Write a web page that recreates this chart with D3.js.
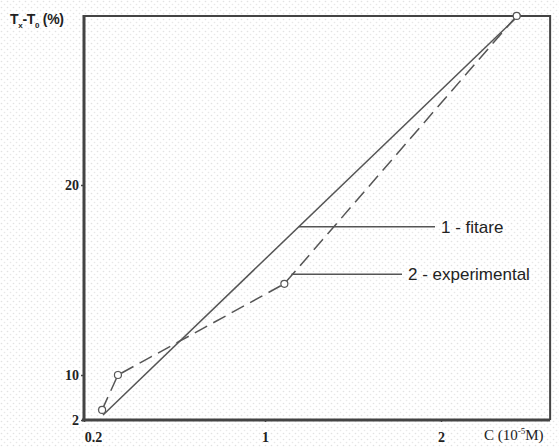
<!DOCTYPE html>
<html>
<head>
<meta charset="utf-8">
<script src="https://cdn.jsdelivr.net/npm/d3@7"></script>
<style>
  body { margin: 0; background: #fff; }
  svg { display: block; }
</style>
</head>
<body>
<svg width="559" height="447"></svg>
<script>
// data (C in 10^-5 M, Tx-T0 in %)
var expC = [0.28, 0.35, 1.11, 2.43];
var expT = [3.8, 10, 14.8, 28.9];
var fitC = [0.284, 2.45];
var fitT = [2.9, 29.0];
var xTicks = [0.2, 1, 2];
var yTicks = [2, 10, 20];

// axes of the original are not uniform, so the scales are piecewise
var x = d3.scaleLinear().domain([0.2, 1, 2]).range([84, 265, 441]);
var y = d3.scaleLinear().domain([2, 10, 20]).range([420, 375, 185]);
var xMax = 2.62, yMax = 28.9;

var svg = d3.select("svg");

// faint dotted paper texture
var pat = svg.append("defs").append("pattern")
    .attr("id", "dots")
    .attr("width", 6).attr("height", 6)
    .attr("patternUnits", "userSpaceOnUse");
pat.append("rect").attr("width", 6).attr("height", 6).attr("fill", "#fff");
pat.append("circle").attr("cx", 1.5).attr("cy", 1.5).attr("r", 0.8).attr("fill", "#e2e2e2");
pat.append("circle").attr("cx", 4.5).attr("cy", 4.5).attr("r", 0.8).attr("fill", "#e8e8e8");
svg.append("rect").attr("width", 559).attr("height", 447).attr("fill", "url(#dots)");

// top and right frame
svg.append("path")
    .attr("d", "M" + x(0.2) + "," + y(yMax) + "H" + x(xMax) + "V" + y(2))
    .attr("fill", "none")
    .attr("stroke", "#444")
    .attr("stroke-width", 2);

// fitted line
var line = d3.line()
    .x(function(d) { return x(d[0]); })
    .y(function(d) { return y(d[1]); });

svg.append("path")
    .datum(d3.zip(fitC, fitT))
    .attr("d", line)
    .attr("fill", "none")
    .attr("stroke", "#555")
    .attr("stroke-width", 1.5);

// experimental dashed line
var expData = d3.zip(expC, expT);
svg.append("path")
    .datum(expData)
    .attr("d", line)
    .attr("fill", "none")
    .attr("stroke", "#555")
    .attr("stroke-width", 1.5)
    .attr("stroke-dasharray", "14,7");

svg.selectAll("circle.pt")
    .data(expData)
    .enter().append("circle")
    .attr("class", "pt")
    .attr("cx", function(d) { return x(d[0]); })
    .attr("cy", function(d) { return y(d[1]); })
    .attr("r", 3.5)
    .attr("fill", "#fff")
    .attr("stroke", "#555")
    .attr("stroke-width", 1.2);

// axes
var xAxis = svg.append("g")
    .attr("transform", "translate(0," + y(2) + ")")
    .call(d3.axisBottom(x).tickValues(xTicks).tickSize(2).tickPadding(10).tickFormat(d3.format("")));
var yAxis = svg.append("g")
    .attr("transform", "translate(" + x(0.2) + ",0)")
    .call(d3.axisLeft(y).tickValues(yTicks).tickSize(3).tickPadding(2));

[xAxis, yAxis].forEach(function(g) {
    g.select(".domain").remove();
    g.selectAll("line").attr("stroke", "#444").attr("stroke-width", 1.5);
    g.selectAll("text")
        .attr("fill", "#222")
        .style("font-family", "Liberation Serif, serif")
        .style("font-weight", "bold")
        .style("font-size", "14px");
});
xAxis.select(".tick text").attr("dx", 9);

svg.append("line")
    .attr("x1", x(0.2) - 2).attr("x2", x(xMax))
    .attr("y1", y(2)).attr("y2", y(2))
    .attr("stroke", "#444").attr("stroke-width", 3);
svg.append("line")
    .attr("x1", x(0.2)).attr("x2", x(0.2))
    .attr("y1", y(yMax) - 1).attr("y2", y(2) + 1)
    .attr("stroke", "#444").attr("stroke-width", 3);

// axis titles
var yt = svg.append("text")
    .attr("x", 10).attr("y", 24)
    .attr("fill", "#222")
    .style("font-family", "Liberation Sans Narrow, Liberation Sans, sans-serif")
    .style("font-weight", "bold")
    .style("font-size", "14px")
    .style("letter-spacing", "-0.3px");
yt.append("tspan").text("T");
yt.append("tspan").attr("dy", 4).style("font-size", "8px").text("x");
yt.append("tspan").attr("dy", -4).text("-T");
yt.append("tspan").attr("dy", 4).style("font-size", "8px").text("0");
yt.append("tspan").attr("dy", -4).text(" (%)");

var xt = svg.append("text")
    .attr("x", 484).attr("y", 440)
    .attr("fill", "#222")
    .style("font-family", "Liberation Serif, serif")
    .style("font-size", "15px");
xt.append("tspan").text("C (10");
xt.append("tspan").attr("dy", -6).style("font-size", "9px").text("-5");
xt.append("tspan").attr("dy", 6).text("M)");

// leader labels
var labels = [
    { at: [1.19, 17.8], x2: 435, text: "1 - fitare" },
    { at: [1.15, 15.3], x2: 402, text: "2 - experimental" }
];
labels.forEach(function(l) {
    var yy = y(l.at[1]);
    svg.append("line")
        .attr("x1", x(l.at[0])).attr("x2", l.x2)
        .attr("y1", yy).attr("y2", yy)
        .attr("stroke", "#555").attr("stroke-width", 1.5);
    svg.append("text")
        .attr("x", l.x2 + 6).attr("y", yy + 6)
        .attr("fill", "#222")
        .style("font-family", "Liberation Sans, Arial, sans-serif")
        .style("font-size", "17px")
        .text(l.text);
});
</script>
</body>
</html>
